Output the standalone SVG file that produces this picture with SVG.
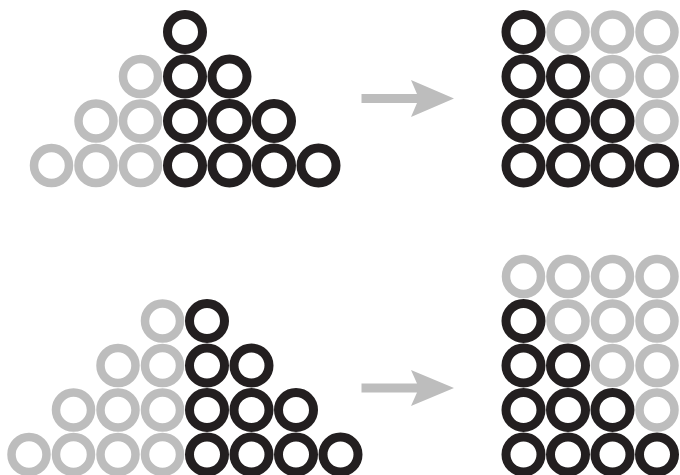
<svg xmlns="http://www.w3.org/2000/svg" width="680" height="475" viewBox="0 0 680 475">
<style>
.b{fill:none;stroke:#231f20;stroke-width:9}
.g{fill:none;stroke:#bdbdbd;stroke-width:8.5}
.arr{fill:#bdbdbd}
</style>
<defs>
<circle id="c" r="17.5"/>
</defs>
<rect width="680" height="475" fill="#fff"/>
<g id="top-triangle">
<use href="#c" class="b" x="185" y="32"/>
<use href="#c" class="g" x="140.5" y="76.5"/>
<use href="#c" class="b" x="185" y="76.5"/>
<use href="#c" class="b" x="229.5" y="76.5"/>
<use href="#c" class="g" x="96" y="121"/>
<use href="#c" class="g" x="140.5" y="121"/>
<use href="#c" class="b" x="185" y="121"/>
<use href="#c" class="b" x="229.5" y="121"/>
<use href="#c" class="b" x="274" y="121"/>
<use href="#c" class="g" x="51.5" y="165.5"/>
<use href="#c" class="g" x="96" y="165.5"/>
<use href="#c" class="g" x="140.5" y="165.5"/>
<use href="#c" class="b" x="185" y="165.5"/>
<use href="#c" class="b" x="229.5" y="165.5"/>
<use href="#c" class="b" x="274" y="165.5"/>
<use href="#c" class="b" x="318.5" y="165.5"/>
</g>
<g id="top-square">
<use href="#c" class="b" x="523.5" y="32"/>
<use href="#c" class="g" x="568" y="32"/>
<use href="#c" class="g" x="612.5" y="32"/>
<use href="#c" class="g" x="657" y="32"/>
<use href="#c" class="b" x="523.5" y="76.5"/>
<use href="#c" class="b" x="568" y="76.5"/>
<use href="#c" class="g" x="612.5" y="76.5"/>
<use href="#c" class="g" x="657" y="76.5"/>
<use href="#c" class="b" x="523.5" y="121"/>
<use href="#c" class="b" x="568" y="121"/>
<use href="#c" class="b" x="612.5" y="121"/>
<use href="#c" class="g" x="657" y="121"/>
<use href="#c" class="b" x="523.5" y="165.5"/>
<use href="#c" class="b" x="568" y="165.5"/>
<use href="#c" class="b" x="612.5" y="165.5"/>
<use href="#c" class="b" x="657" y="165.5"/>
</g>
<g id="bottom-triangle">
<use href="#c" class="g" x="162.5" y="321"/>
<use href="#c" class="b" x="207" y="321"/>
<use href="#c" class="g" x="118" y="365.5"/>
<use href="#c" class="g" x="162.5" y="365.5"/>
<use href="#c" class="b" x="207" y="365.5"/>
<use href="#c" class="b" x="251.5" y="365.5"/>
<use href="#c" class="g" x="73.5" y="410"/>
<use href="#c" class="g" x="118" y="410"/>
<use href="#c" class="g" x="162.5" y="410"/>
<use href="#c" class="b" x="207" y="410"/>
<use href="#c" class="b" x="251.5" y="410"/>
<use href="#c" class="b" x="296" y="410"/>
<use href="#c" class="g" x="29" y="454.5"/>
<use href="#c" class="g" x="73.5" y="454.5"/>
<use href="#c" class="g" x="118" y="454.5"/>
<use href="#c" class="g" x="162.5" y="454.5"/>
<use href="#c" class="b" x="207" y="454.5"/>
<use href="#c" class="b" x="251.5" y="454.5"/>
<use href="#c" class="b" x="296" y="454.5"/>
<use href="#c" class="b" x="340.5" y="454.5"/>
</g>
<g id="bottom-square">
<use href="#c" class="g" x="523.5" y="276.5"/>
<use href="#c" class="g" x="568" y="276.5"/>
<use href="#c" class="g" x="612.5" y="276.5"/>
<use href="#c" class="g" x="657" y="276.5"/>
<use href="#c" class="b" x="523.5" y="321"/>
<use href="#c" class="g" x="568" y="321"/>
<use href="#c" class="g" x="612.5" y="321"/>
<use href="#c" class="g" x="657" y="321"/>
<use href="#c" class="b" x="523.5" y="365.5"/>
<use href="#c" class="b" x="568" y="365.5"/>
<use href="#c" class="g" x="612.5" y="365.5"/>
<use href="#c" class="g" x="657" y="365.5"/>
<use href="#c" class="b" x="523.5" y="410"/>
<use href="#c" class="b" x="568" y="410"/>
<use href="#c" class="b" x="612.5" y="410"/>
<use href="#c" class="g" x="657" y="410"/>
<use href="#c" class="b" x="523.5" y="454.5"/>
<use href="#c" class="b" x="568" y="454.5"/>
<use href="#c" class="b" x="612.5" y="454.5"/>
<use href="#c" class="b" x="657" y="454.5"/>
</g>
<g id="connectors">
<path class="arr" d="M361.5,94 L417,94 L411,80 L454,98.5 L411,117 L417,103 L361.5,103 Z"/>
<path class="arr" d="M361.5,383.5 L417,383.5 L411,370 L454,388 L411,406 L417,392.5 L361.5,392.5 Z"/>
</g>
</svg>
